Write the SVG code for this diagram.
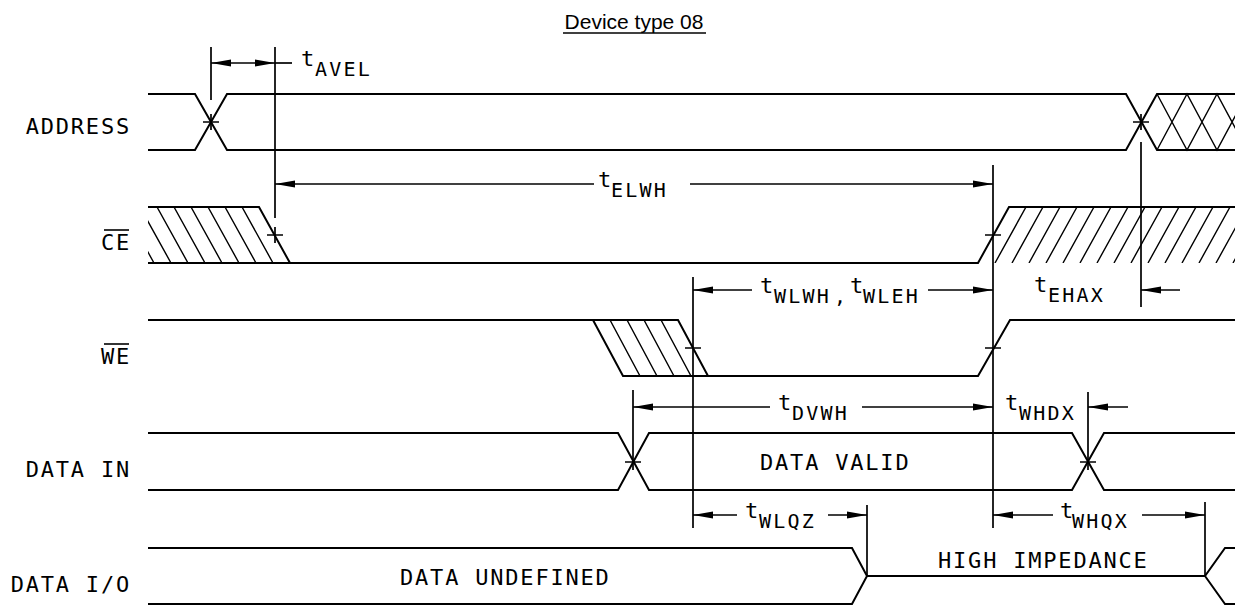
<svg xmlns="http://www.w3.org/2000/svg" width="1235" height="606" viewBox="0 0 1235 606">
<style>
.w{fill:none;stroke:#000;stroke-width:2;stroke-linejoin:miter}
.v{fill:none;stroke:#000;stroke-width:1.7}
.h{fill:none;stroke:#000;stroke-width:1.4}
.a{fill:none;stroke:#000;stroke-width:1.7}
.lbl{font-family:"DejaVu Sans Mono","Liberation Mono",monospace;font-size:22px;letter-spacing:1.8px;fill:#000}
.t{font-family:"DejaVu Sans Mono","Liberation Mono",monospace;font-size:22px;fill:#000}
.s{font-size:20px;letter-spacing:2.2px}
.title{font-family:"Liberation Sans",Arial,sans-serif;font-size:21px;fill:#000}
</style>
<defs>
<marker id="ah" viewBox="0 -4 20 8" refX="20" refY="0" markerWidth="20" markerHeight="8" markerUnits="userSpaceOnUse" orient="auto-start-reverse">
<path d="M0,-3.5 L20,0 L0,3.5 Z" fill="#000"/>
</marker>
<clipPath id="ceL"><polygon points="148,207 259,207 290,263 148,263"/></clipPath>
<clipPath id="ceR"><polygon points="978,263 1009,207 1235,207 1235,263"/></clipPath>
<clipPath id="weH"><polygon points="593,320 678,320 708,376 623,376"/></clipPath>
</defs>

<g id="title">
<text class="title" x="634" y="29" text-anchor="middle">Device type 08</text>
<line x1="563" y1="33" x2="706" y2="33" stroke="#000" stroke-width="1.6"/>
</g>

<g id="labels">
<text class="lbl" x="131" y="134" text-anchor="end">ADDRESS</text>
<text class="lbl" x="131" y="250" text-anchor="end">CE</text>
<line x1="104" y1="230" x2="129" y2="230" stroke="#000" stroke-width="1.6"/>
<text class="lbl" x="131" y="364" text-anchor="end">WE</text>
<line x1="104" y1="344" x2="129" y2="344" stroke="#000" stroke-width="1.6"/>
<text class="lbl" x="131" y="477" text-anchor="end">DATA IN</text>
<text class="lbl" x="131" y="592" text-anchor="end">DATA I/O</text>
</g>

<g id="address">
<path class="w" d="M148,94 H195 L227,150 H1126 L1157,94 H1235"/>
<path class="w" d="M148,150 H195 L227,94 H1126 L1157,150 H1235"/>
<path class="h" d="M1157,94 L1187,150 L1217,94 L1247,150 M1157,150 L1187,94 L1217,150 L1247,94"/>
</g>

<g id="ce">
<path class="w" d="M148,207 H259 L290,263 M148,263 H978 L1009,207 H1235"/>
<g clip-path="url(#ceL)">
<path class="h" d="M242,207 l31,56 M225,207 l31,56 M208,207 l31,56 M191,207 l31,56 M174,207 l31,56 M157,207 l31,56 M140,207 l31,56 M123,207 l31,56"/>
</g>
<g clip-path="url(#ceR)">
<path class="h" d="M995,263 l31,-56 M1012,263 l31,-56 M1029,263 l31,-56 M1046,263 l31,-56 M1063,263 l31,-56 M1080,263 l31,-56 M1097,263 l31,-56 M1114,263 l31,-56 M1131,263 l31,-56 M1148,263 l31,-56 M1165,263 l31,-56 M1182,263 l31,-56 M1199,263 l31,-56 M1216,263 l31,-56 M1233,263 l31,-56"/>
</g>
</g>

<g id="we">
<path class="w" d="M148,320 H678 L708,376 M593,320 L623,376 H978 L1010,320 H1235"/>
<g clip-path="url(#weH)">
<path class="h" d="M610,320 l30,56 M627,320 l30,56 M644,320 l30,56 M661,320 l30,56"/>
</g>
</g>

<g id="datain">
<path class="w" d="M148,433 H618 L649,490 H1072 L1104,433 H1235"/>
<path class="w" d="M148,490 H618 L649,433 H1072 L1104,490 H1235"/>
<text class="lbl" x="760" y="470">DATA VALID</text>
</g>

<g id="dataio">
<path class="w" d="M148,548 H852 L867,576 L852,604 H148"/>
<path class="w" d="M867,576 H1205 L1225,548 H1235 M1205,576 L1225,604 H1235"/>
<text class="lbl" x="400" y="585">DATA UNDEFINED</text>
<text class="lbl" x="938" y="568">HIGH IMPEDANCE</text>
</g>

<g id="refs">
<path class="v" d="M211,47 V100 M203,122 H219 M211,114 V130"/>
<path class="v" d="M275,47 V218 M267,235 H283 M275,227 V243"/>
<path class="v" d="M1141,114 V130 M1133,122 H1149 M1141,142 V307"/>
<path class="v" d="M993,165 V528 M985,235 H1001 M985,348 H1001"/>
<path class="v" d="M693,277 V528 M685,348 H701"/>
<path class="v" d="M633,390 V470 M625,462 H641"/>
<path class="v" d="M1088,392 V470 M1080,462 H1096"/>
<path class="v" d="M867,505 V576"/>
<path class="v" d="M1205,502 V576"/>
</g>

<g id="connectors">
<line class="a" x1="211" y1="63" x2="275" y2="63" marker-start="url(#ah)" marker-end="url(#ah)"/>
<line class="a" x1="275" y1="63" x2="292" y2="63"/>
<line class="a" x1="594" y1="184" x2="275" y2="184" marker-end="url(#ah)"/>
<line class="a" x1="690" y1="184" x2="993" y2="184" marker-end="url(#ah)"/>
<line class="a" x1="752" y1="290" x2="693" y2="290" marker-end="url(#ah)"/>
<line class="a" x1="928" y1="290" x2="993" y2="290" marker-end="url(#ah)"/>
<line class="a" x1="1180" y1="290" x2="1141" y2="290" marker-end="url(#ah)"/>
<line class="a" x1="770" y1="407" x2="633" y2="407" marker-end="url(#ah)"/>
<line class="a" x1="862" y1="407" x2="993" y2="407" marker-end="url(#ah)"/>
<line class="a" x1="1128" y1="407" x2="1088" y2="407" marker-end="url(#ah)"/>
<line class="a" x1="737" y1="515" x2="693" y2="515" marker-end="url(#ah)"/>
<line class="a" x1="828" y1="515" x2="867" y2="515" marker-end="url(#ah)"/>
<line class="a" x1="1053" y1="515" x2="993" y2="515" marker-end="url(#ah)"/>
<line class="a" x1="1142" y1="515" x2="1205" y2="515" marker-end="url(#ah)"/>
</g>

<g id="timing-labels">
<text class="t" x="301" y="66">t<tspan class="s" x="315" y="76">AVEL</tspan></text>
<text class="t" x="598" y="187">t<tspan class="s" x="611" y="197">ELWH</tspan></text>
<text class="t" x="760" y="293">t<tspan class="s" x="774" y="303">WLWH</tspan><tspan class="s" x="834" y="303">,</tspan><tspan x="850" y="293">t</tspan><tspan class="s" x="863" y="303">WLEH</tspan></text>
<text class="t" x="1034" y="292">t<tspan class="s" x="1048" y="302">EHAX</tspan></text>
<text class="t" x="778" y="410">t<tspan class="s" x="792" y="420">DVWH</tspan></text>
<text class="t" x="1005" y="410">t<tspan class="s" x="1019" y="420">WHDX</tspan></text>
<text class="t" x="745" y="518">t<tspan class="s" x="759" y="528">WLQZ</tspan></text>
<text class="t" x="1060" y="518">t<tspan class="s" x="1072" y="528">WHQX</tspan></text>
</g>
</svg>
